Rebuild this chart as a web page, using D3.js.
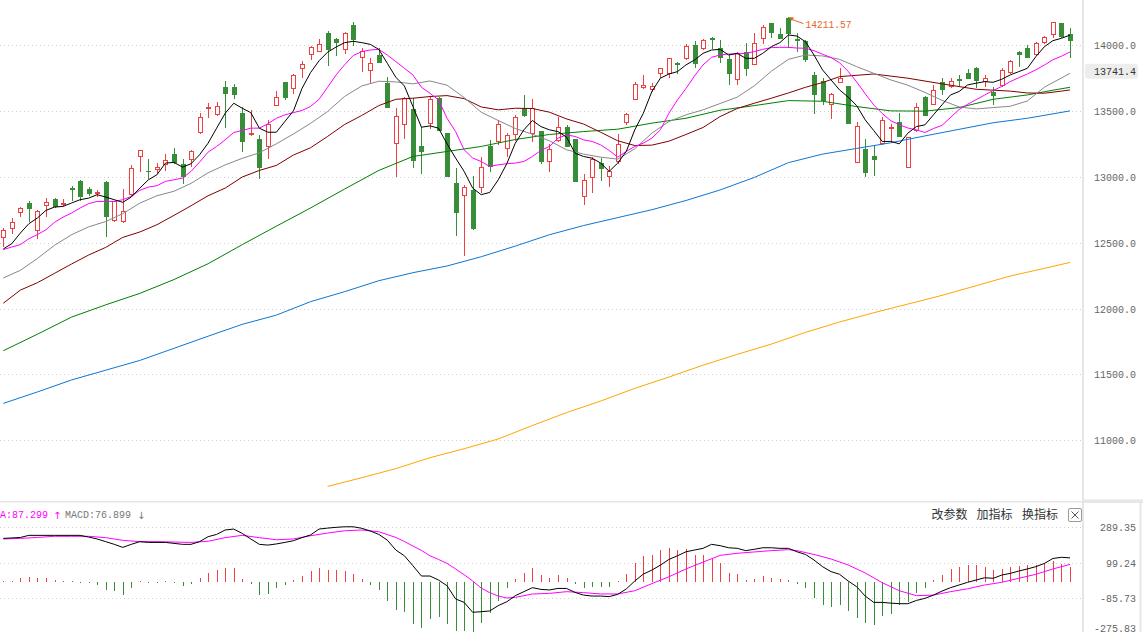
<!DOCTYPE html>
<html><head><meta charset="utf-8">
<script src="https://cdn.jsdelivr.net/npm/d3@7"></script>
<style>body{margin:0;background:#fff;overflow:hidden}svg{display:block}</style>
</head><body>
<svg id="c" width="1143" height="632"></svg>
<script>
// ---------------- DATA ----------------
const openP = [12543,12611,12732,12803,12598,12785,12831,12793,12914,12970,12909,12874,12960,12669,12667,12869,13157,13045,13058,13096,13172,13099,13134,13336,13520,13475,13679,13679,13482,13323,13285,13230,13543,13717,13672,13823,13929,13957,14088,14043,13972,14152,13907,13808,13924,13710,13260,13399,13515,13235,13407,13601,13331,12952,12859,12902,12922,13235,13268,13217,13323,13520,13331,13349,13116,13280,13374,13285,12851,12997,13104,13008,13121,13412,13588,13679,13669,13790,13785,13861,13899,14000,13975,14051,13980,13891,13740,13944,13854,14051,14164,14083,14202,14045,14033,13773,13727,13551,13717,13689,13109,13212,13154,13255,13369,13419,13073,13356,13609,13553,13717,13689,13740,13785,13828,13730,13647,13697,13798,13944,13975,13932,14025,14083,14164,14083];
const highP = [12611,12687,12770,12813,12750,12838,12838,12831,12932,12977,12922,12902,12965,12813,12907,13091,13202,13134,13104,13172,13217,13134,13205,13482,13558,13566,13727,13702,13533,13508,13318,13432,13652,13717,13780,13879,13992,14043,14106,14051,14096,14172,13975,13899,13980,13755,13525,13604,13596,13381,13609,13609,13331,13066,12939,13003,13149,13280,13432,13331,13470,13621,13591,13349,13248,13457,13394,13285,13023,13149,13146,13078,13326,13482,13717,13773,13710,13823,13899,13874,14005,14033,14043,14063,14038,13924,13950,14018,14088,14152,14164,14126,14211.57,14091,14038,13798,13748,13634,13823,13689,13419,13285,13242,13457,13402,13487,13301,13558,13614,13697,13748,13748,13773,13816,13836,13773,13679,13828,13886,13957,14000,14025,14068,14177,14164,14126];
const lowP = [12472,12573,12700,12662,12535,12700,12770,12783,12826,12826,12859,12856,12548,12662,12654,12864,13040,12990,13028,13053,13104,12952,13078,13331,13457,13465,13374,13601,13192,13318,12990,13141,13543,13588,13634,13760,13894,13957,13846,13924,13937,14000,13806,13710,13874,13533,13008,13293,13071,13028,13369,13356,13003,12561,12409,12604,12881,13040,13250,13159,13280,13460,13275,13104,13040,13268,13230,12965,12795,12881,12972,12927,13104,13402,13588,13672,13654,13760,13760,13785,13891,13836,13967,13980,13874,13705,13705,13773,13854,14018,14063,14051,13987,13952,13880,13487,13553,13444,13717,13407,13109,13003,13010,13250,13268,13306,13073,13351,13470,13553,13629,13679,13697,13748,13679,13689,13553,13689,13785,13841,13907,13924,14013,14063,14058,13907];
const closeP = [12598,12657,12760,12760,12742,12811,12775,12803,12907,12851,12876,12884,12700,12813,12742,13066,13202,13040,13073,13126,13109,13003,13192,13452,13528,13540,13639,13626,13275,13333,13071,13399,13609,13609,13770,13854,13982,14008,13972,14025,14088,14048,13957,13861,13874,13533,13462,13596,13129,13192,13591,13356,13003,12730,12919,12611,13073,13078,13402,13318,13457,13470,13520,13116,13210,13376,13230,12965,12977,13136,13066,13045,13250,13475,13702,13694,13690,13823,13899,13856,13992,13861,14038,14045,13912,13790,13942,13823,14013,14134,14096,14051,14088,14040,13894,13629,13583,13626,13748,13407,13386,13033,13134,13432,13381,13306,13301,13533,13470,13659,13664,13730,13735,13753,13735,13753,13621,13811,13879,13929,13912,14013,14063,14172,14068,14038];

const ma5 = [12452,12493,12573,12644,12687,12745,12770,12775,12801,12826,
12838,12864,12846,12826,12806,12846,12914,12977,13015,13104,
13109,13073,13099,13167,13255,13369,13482,13558,13520,13487,
13369,13338,13338,13420,13500,13670,13790,13880,13945,13985,
14018,14028,14018,14005,13967,13861,13755,13689,13533,13376,
13386,13369,13250,13142,13041,12914,12864,12881,12977,13099,
13255,13356,13427,13381,13356,13343,13301,13179,13154,13141,
13104,13041,13104,13192,13356,13482,13647,13748,13780,13798,
13849,13886,13937,13962,13967,13924,13937,13899,13899,13937,
13987,14018,14076,14068,14025,13924,13811,13735,13659,13605,
13540,13432,13351,13268,13268,13250,13331,13381,13394,13470,
13546,13621,13647,13697,13710,13722,13717,13740,13773,13798,
13823,13912,13987,14033,14051,14075];
const ma10 = [12447,12467,12485,12530,12561,12598,12654,12694,12725,12763,
12796,12813,12813,12813,12826,12851,12897,12922,12932,12965,
12977,12990,13041,13111,13187,13230,13280,13336,13351,13369,
13369,13402,13444,13470,13487,13503,13533,13588,13679,13773,
13850,13920,13950,13962,13967,13924,13874,13823,13773,13679,
13634,13583,13444,13343,13205,13142,13116,13078,13091,13099,
13104,13116,13154,13200,13230,13293,13318,13306,13280,13268,
13242,13200,13149,13192,13230,13255,13293,13356,13482,13583,
13670,13765,13849,13907,13924,13932,13932,13937,13950,13967,
13980,13982,13982,13977,13975,13957,13930,13905,13865,13800,
13720,13630,13545,13480,13425,13395,13370,13356,13336,13366,
13390,13450,13510,13550,13585,13620,13655,13685,13722,13752,
13780,13812,13848,13888,13915,13947];
const ma20 = [[0,12232],[2,12290],[4,12380],[6,12480],[8,12560],[10,12620],[12,12660],[14,12720],[16,12800],[18,12856],[20,12890],[22,12950],[24,13030],[26,13090],[28,13140],[30,13182],[32,13250],[34,13325],[36,13405],[38,13495],[40,13610],[42,13689],[44,13725],[46,13720],[48,13705],[50,13727],[52,13695],[54,13601],[56,13490],[58,13427],[60,13366],[62,13323],[64,13273],[66,13205],[68,13172],[70,13149],[72,13134],[74,13212],[76,13331],[78,13419],[80,13470],[82,13508],[84,13556],[86,13604],[88,13690],[90,13801],[92,13891],[94,13924],[96,13917],[98,13891],[100,13836],[102,13785],[104,13735],[106,13695],[108,13640],[110,13580],[112,13530],[114,13515],[116,13525],[118,13535],[120,13575],[122,13680],[124,13750],[125,13785]];
const ma30 = [[0,12040],[2,12140],[4,12196],[6,12267],[8,12338],[10,12406],[12,12464],[14,12540],[16,12581],[18,12636],[20,12707],[22,12780],[24,12856],[26,12914],[28,12998],[30,13048],[32,13086],[34,13165],[36,13220],[38,13306],[40,13397],[42,13465],[44,13540],[46,13588],[48,13596],[50,13609],[52,13616],[54,13593],[56,13530],[58,13508],[60,13520],[62,13518],[64,13490],[66,13439],[68,13400],[70,13338],[72,13273],[74,13237],[76,13240],[78,13270],[80,13321],[82,13374],[84,13457],[86,13518],[88,13558],[90,13596],[92,13636],[94,13679],[96,13715],[98,13760],[102,13780],[106,13748],[110,13705],[114,13664],[118,13650],[120,13636],[122,13634],[124,13650],[125,13659]];
const ma60 = [[0,11680],[4,11805],[8,11935],[12,12028],[16,12115],[20,12220],[24,12340],[28,12485],[32,12625],[36,12763],[40,12907],[44,13048],[48,13154],[52,13192],[56,13230],[60,13283],[64,13321],[68,13343],[72,13361],[76,13407],[80,13444],[84,13505],[88,13540],[92,13578],[96,13573],[100,13533],[104,13500],[108,13498],[112,13525],[116,13588],[120,13621],[123,13657],[125,13679]];
const ma120 = [[0,11280],[4,11367],[8,11458],[12,11532],[16,11606],[20,11698],[24,11790],[28,11880],[32,11950],[36,12052],[40,12128],[44,12211],[48,12272],[52,12323],[56,12393],[60,12474],[64,12560],[68,12630],[72,12690],[76,12750],[80,12820],[84,12900],[88,12995],[92,13107],[96,13172],[100,13215],[104,13258],[108,13310],[112,13360],[116,13410],[120,13444],[125,13500]];
const ma250 = [[38,10650],[42,10716],[46,10785],[50,10868],[54,10936],[58,11010],[62,11112],[66,11210],[70,11298],[74,11394],[78,11480],[82,11570],[86,11652],[90,11730],[94,11819],[98,11898],[102,11968],[106,12034],[110,12100],[114,12173],[118,12247],[122,12305],[125,12350]];

const macdHist = [3,3,21,26,21,21,9,4,3,-3,-8,-14,-44,-49,-66,-31,0,-2,-2,0,-2,-21,-12,21,47,61,73,73,14,-10,-68,-63,-31,-16,9,31,56,73,61,61,56,40,14,-16,-42,-101,-147,-157,-218,-241,-192,-183,-218,-258,-258,-262,-213,-161,-101,-31,14,49,75,38,23,38,23,-10,-30,-26,-26,-26,0,44,101,134,143,166,178,166,171,143,140,126,100,49,40,9,14,30,23,14,9,-12,-31,-82,-122,-131,-122,-154,-189,-215,-223,-178,-166,-122,-105,-56,-31,9,35,66,79,87,87,79,61,66,79,82,87,91,100,109,96,79];
const dif = [[0,228],[2,233],[3,244],[6,244],[9,244],[10,235],[11,225],[12,211],[13,197],[14,181],[15,197],[16,211],[17,207],[19,207],[20,202],[21,197],[22,197],[23,211],[24,237],[25,249],[26,272],[27,277],[28,254],[29,225],[30,197],[31,193],[32,199],[33,207],[34,216],[35,232],[36,246],[37,277],[38,282],[39,286],[40,289],[41,289],[42,281],[43,267],[44,249],[45,219],[46,167],[47,137],[48,85],[49,31],[50,31],[51,10],[52,-20],[53,-89],[54,-107],[55,-159],[56,-156],[57,-152],[58,-124],[59,-104],[60,-72],[61,-51],[62,-30],[63,-39],[64,-42],[65,-34],[66,-34],[67,-55],[68,-69],[69,-74],[70,-74],[71,-77],[72,-65],[73,-37],[74,5],[75,41],[76,62],[77,88],[78,118],[79,137],[80,158],[81,167],[82,176],[83,197],[84,190],[85,179],[86,176],[87,164],[88,171],[89,179],[90,179],[91,176],[92,176],[93,158],[94,144],[95,115],[96,80],[97,54],[98,40],[99,5],[100,-25],[101,-74],[102,-107],[103,-107],[104,-111],[105,-114],[106,-114],[107,-97],[108,-86],[109,-69],[110,-48],[111,-30],[112,-16],[113,-2],[114,10],[115,22],[116,19],[117,36],[118,45],[119,57],[120,68],[121,80],[122,97],[123,123],[124,129],[125,126]];
const dea = [[0,225],[2,228],[4,233],[6,239],[8,239],[10,239],[12,232],[14,218],[16,211],[18,211],[20,209],[22,207],[24,213],[26,232],[28,244],[30,232],[32,221],[34,225],[36,242],[38,256],[40,268],[42,272],[44,263],[46,233],[47,212],[48,188],[49,165],[50,137],[51,118],[52,97],[53,68],[54,38],[55,5],[56,-32],[57,-56],[58,-74],[59,-84],[60,-81],[61,-72],[62,-63],[64,-60],[66,-51],[68,-56],[70,-63],[72,-63],[74,-46],[76,-9],[78,27],[80,68],[82,104],[84,139],[86,150],[88,157],[90,164],[92,169],[93,164],[95,144],[97,120],[99,89],[101,47],[103,-4],[105,-46],[107,-72],[109,-69],[111,-51],[113,-36],[115,-16],[117,-2],[119,19],[121,40],[123,68],[125,92]];

const priceTicks = [14000,13500,13000,12500,12000,11500,11000];
const macdTicks = [289.35,99.24,-85.73,-275.83];
const maxPrice = 14211.57, maxIndex = 92;
const cursorPrice = 13800, cursorLabel = "13741.4";
const deaText = "DEA:87.299", macdText = "MACD:76.899";
const buttons = ["改参数","加指标","换指标"];

// ---------------- DRAW ----------------
const RED = "#ee4040", GREEN = "#388e38";
const MONO = "'Liberation Mono','DejaVu Sans Mono',monospace";
const svg = d3.select('#c');
const defs = svg.append('defs');
defs.append('clipPath').attr('id','cm').append('rect').attr('x',0).attr('y',0).attr('width',1082).attr('height',500);
defs.append('clipPath').attr('id','cs').append('rect').attr('x',0).attr('y',503).attr('width',1082).attr('height',129);

const x = d3.scaleLinear().domain([0,125]).range([3.3,1070]);
const cx = i => Math.round(x(i)) + 0.5;
const y = d3.scaleLinear().domain([11000,14000]).range([440.3,45]);
const ym = d3.scaleLinear().domain([-85.73,289.35]).range([598.3,526.7]);

function mono(g, str, xp, yb, anchor, color, cw, fs){
  return g.append('text').attr('x',xp).attr('y',yb).attr('text-anchor',anchor)
    .attr('font-family',MONO).attr('font-size',fs||11.5).attr('fill',color)
    .attr('textLength',str.length*(cw||6)).attr('lengthAdjust','spacingAndGlyphs').text(str);
}

// frame
svg.append('rect').attr('x',1082).attr('y',0).attr('width',2).attr('height',632).attr('fill','#e6e6e6');
svg.append('rect').attr('x',0).attr('y',501).attr('width',1143).attr('height',1.5).attr('fill','#e6e6e6');
svg.append('rect').attr('x',1084).attr('y',499.5).attr('width',59).attr('height',3.5).attr('fill','#e6e6e6');
svg.append('rect').attr('x',1139.5).attr('y',502).attr('width',2).attr('height',130).attr('fill','#e6e6e6');

// main grid
const grid = svg.append('g');
priceTicks.forEach(t=>{
  const yy = Math.round(y(t))+0.5;
  grid.append('line').attr('x1',0).attr('x2',1081).attr('y1',yy).attr('y2',yy)
    .attr('stroke','#cfcfcf').attr('stroke-dasharray','1,3');
  mono(svg, t.toFixed(1), 1136, y(t)+4, 'end', '#666');
});
// sub grid
macdTicks.forEach((t,k)=>{
  const yy = Math.round(ym(t))+0.5;
  if (k<3) grid.append('line').attr('x1',0).attr('x2',1081).attr('y1',yy).attr('y2',yy)
    .attr('stroke','#cfcfcf').attr('stroke-dasharray','1,3');
  mono(svg, t.toFixed(2), 1136, Math.min(ym(t),628)+4, 'end', '#666');
});

// candles
const gm = svg.append('g').attr('clip-path','url(#cm)');
const cg = gm.append('g').attr('shape-rendering','crispEdges');
d3.range(openP.length).forEach(i=>{
  const o=openP[i], c=closeP[i], h=highP[i], l=lowP[i];
  const up = c >= o, col = up ? RED : GREEN, xc = cx(i);
  const yt = Math.round(y(Math.max(o,c))), yb = Math.round(y(Math.min(o,c)));
  cg.append('line').attr('x1',xc).attr('x2',xc).attr('y1',Math.round(y(h))).attr('y2',Math.round(y(l))+1).attr('stroke',col);
  if (yb - yt < 2) {
    cg.append('rect').attr('x',xc-2.5).attr('y',yt).attr('width',5).attr('height',Math.max(1,yb-yt+1)).attr('fill',col);
  } else if (up) {
    cg.append('rect').attr('x',xc-2).attr('y',yt+0.5).attr('width',4).attr('height',yb-yt).attr('fill','#fff').attr('stroke',col);
  } else {
    cg.append('rect').attr('x',xc-2.5).attr('y',yt).attr('width',5).attr('height',yb-yt+1).attr('fill',col);
  }
});

// moving averages
const line = d3.line().x(d=>x(d[0])).y(d=>y(d[1]));
const maSets = [
  [ma250,'#ffa500'],[ma120,'#0a78d2'],[ma60,'#008000'],[ma30,'#800000'],[ma20,'#888888'],
  [ma10.map((v,i)=>[i,v]),'#ff00ff'],[ma5.map((v,i)=>[i,v]),'#000000']
];
maSets.forEach(([d,col])=>{
  gm.append('path').attr('d',line(d)).attr('fill','none').attr('stroke',col).attr('stroke-width',1);
});

// max marker
const mx = cx(maxIndex), my = y(maxPrice);
const ORG = '#e8641e';
svg.append('path').attr('d',`M${mx+0.5},${my} L${mx+5.5},${my+0.5} L${mx+3.5},${my+4} Z`).attr('fill',ORG);
svg.append('line').attr('x1',mx+4).attr('y1',my+2.5).attr('x2',mx+15).attr('y2',my+6.5).attr('stroke',ORG);
mono(svg, maxPrice.toFixed(2), mx+17, my+10.5, 'start', ORG, 5.75, 11.5);

// cursor label
svg.append('rect').attr('x',1085).attr('y',y(cursorPrice)-7.5).attr('width',53).attr('height',15).attr('rx',3).attr('fill','#ededed');
mono(svg, cursorLabel, 1136, y(cursorPrice)+4, 'end', '#333');

// MACD
const gs = svg.append('g').attr('clip-path','url(#cs)');
const hg = gs.append('g').attr('shape-rendering','crispEdges');
const y0 = Math.round(ym(0));
macdHist.forEach((v,i)=>{
  const yy = Math.round(ym(v));
  const col = v >= 0 ? RED : GREEN;
  if (v >= 0) hg.append('line').attr('x1',cx(i)).attr('x2',cx(i)).attr('y1',Math.min(yy,y0-1)).attr('y2',y0).attr('stroke',col);
  else hg.append('line').attr('x1',cx(i)).attr('x2',cx(i)).attr('y1',y0).attr('y2',Math.max(yy,y0+1)).attr('stroke',col);
});
const mline = d3.line().x(d=>x(d[0])).y(d=>ym(d[1]));
gs.append('path').attr('d',mline(dea)).attr('fill','none').attr('stroke','#ff00ff');
gs.append('path').attr('d',mline(dif)).attr('fill','none').attr('stroke','#000');

// MACD header (natural mono width 6px/char at 10px)
mono(svg, deaText, -12, 518, 'start', '#ff00ff', 6, 10);
svg.append('text').attr('x',53).attr('y',518.5).attr('font-family','DejaVu Sans').attr('font-size',10).attr('fill','#ff00ff').text('↑');
mono(svg, macdText, 65, 518, 'start', '#777', 6, 10);
svg.append('text').attr('x',137).attr('y',518.5).attr('font-family','DejaVu Sans').attr('font-size',10).attr('fill','#777').text('↓');

// buttons
const bx = [931.5, 976.5, 1022];
buttons.forEach((b,k)=>{
  svg.append('text').attr('x',bx[k]).attr('y',519).attr('font-family',"'Noto Sans CJK SC',sans-serif")
    .attr('font-size',12).attr('fill','#333').text(b);
});
svg.append('rect').attr('x',1068.5).attr('y',508.5).attr('width',13).attr('height',13).attr('rx',1.5).attr('fill','#fff').attr('stroke','#9a9a9a');
svg.append('path').attr('d','M1071.5,511.5 L1078.5,518.5 M1078.5,511.5 L1071.5,518.5').attr('stroke','#555').attr('stroke-width',1);
</script>
</body></html>
